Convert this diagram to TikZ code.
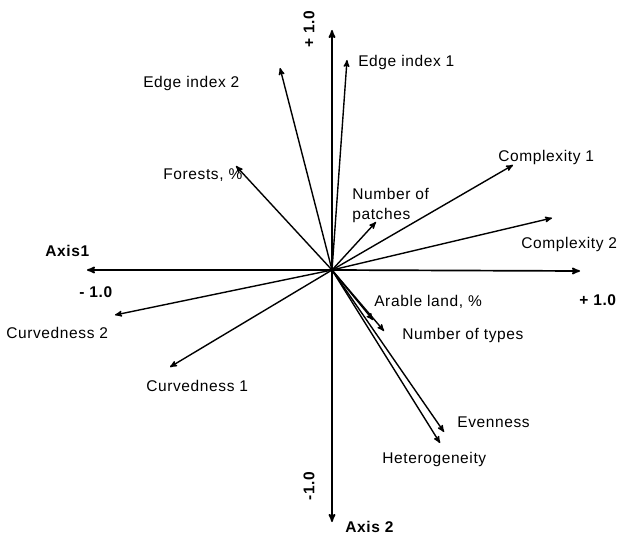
\documentclass[tikz,border=0pt]{standalone}
\usepackage{fontspec}
\setmainfont[LetterSpace=4]{Liberation Sans}
\usetikzlibrary{arrows}

\begin{document}
\begin{tikzpicture}[x=1pt,y=-1pt,->,>=stealth',semithick]
  \tikzstyle{every node}=[font=\fontsize{15.5}{20}\selectfont,inner sep=0pt,anchor=west]
  \tikzstyle{axis}=[line width=1.7pt]
  \tikzstyle{vec}=[line width=1.4pt]
  \tikzstyle{bold}=[font=\fontsize{15.5}{20}\selectfont\bfseries]
  \useasboundingbox (0,0) rectangle (623,537);

  \coordinate (O)      at (332,270);
  % axis ends
  \coordinate (AxL)    at (87,270);
  \coordinate (AxR)    at (580,271);
  \coordinate (AxT)    at (332,30);
  \coordinate (AxB)    at (332,522);
  % vector tips
  \coordinate (Edge1)  at (347,60);
  \coordinate (Edge2)  at (280,68);
  \coordinate (Forest) at (236,166);
  \coordinate (Patch)  at (376,222);
  \coordinate (Compl1) at (513,165);
  \coordinate (Compl2) at (552,218);
  \coordinate (Curv2)  at (115,315);
  \coordinate (Curv1)  at (170,367);
  \coordinate (Arable) at (373,320);
  \coordinate (Types)  at (384,331);
  \coordinate (Even)   at (444,432);
  \coordinate (Hetero) at (440,443);

  \node[bold]                  (lAx1)   at (45,251)  {Axis1};
  \node[bold]                  (lAx2)   at (345,527) {Axis 2};
  \node[bold]                  (lmin1)  at (79,292)  {- 1.0};
  \node[bold]                  (lplus1) at (579,300) {+ 1.0};
  \node[bold,rotate=90]        (lplus2) at (309,48)  {+ 1.0};
  \node[bold,rotate=90]        (lmin2)  at (309,501) {-1.0};

  \node                        (lEdge1)  at (358,62)  {Edge index 1};
  \node                        (lEdge2)  at (143,83)  {Edge index 2};
  \node                        (lForest) at (163,175) {Forests, \%};
  \node[align=left]            (lPatch)  at (352,205) {Number of\\patches};
  \node                        (lCompl1) at (498,157) {Complexity 1};
  \node                        (lCompl2) at (521,244) {Complexity 2};
  \node                        (lCurv2)  at (6,333)   {Curvedness 2};
  \node                        (lCurv1)  at (146,386) {Curvedness 1};
  \node                        (lArable) at (374,302) {Arable land, \%};
  \node                        (lTypes)  at (402,335) {Number of types};
  \node                        (lEven)   at (457,422) {Evenness};
  \node                        (lHetero) at (382,459) {Heterogeneity};

  \path[axis] (O) edge (AxL)
                  edge (AxR)
                  edge (AxT)
                  edge (AxB);
  \path[vec]  (O) edge (Edge1)
                  edge (Edge2)
                  edge (Forest)
                  edge (Patch)
                  edge (Compl1)
                  edge (Compl2)
                  edge (Curv2)
                  edge (Curv1)
                  edge (Arable)
                  edge (Types)
                  edge (Even)
                  edge (Hetero);
\end{tikzpicture}
\end{document}
